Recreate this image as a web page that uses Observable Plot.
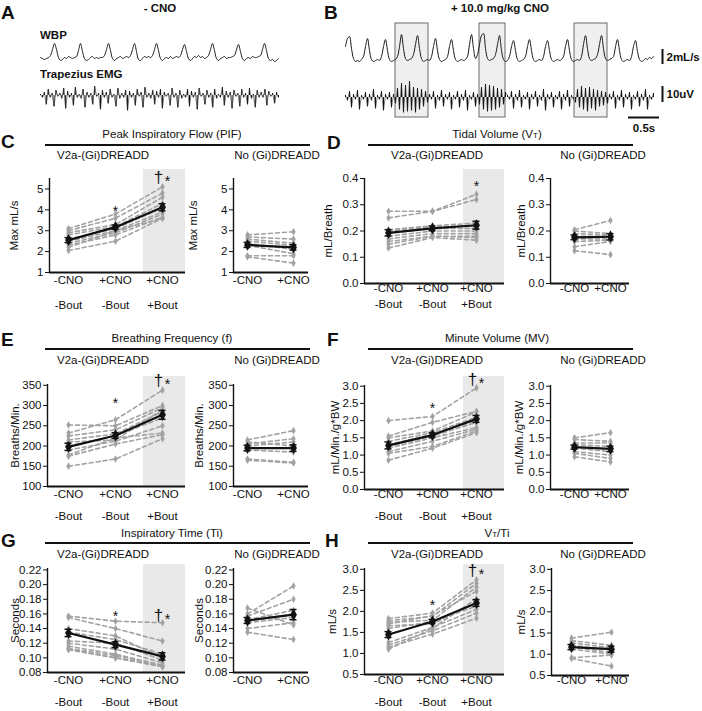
<!DOCTYPE html>
<html><head><meta charset="utf-8">
<script src="https://cdn.jsdelivr.net/npm/d3@7"></script>
<script src="https://cdn.jsdelivr.net/npm/@observablehq/plot@0.6"></script>
<style>
body{margin:0;background:#fff;}
#fig{position:relative;width:702px;height:711px;overflow:hidden;font-family:"Liberation Sans",Arial,sans-serif;color:#111;background:#fff;}
#fig svg{position:absolute;background:transparent !important;overflow:visible !important;max-width:none !important;}
.abs{position:absolute;white-space:nowrap;line-height:1;}
.letter{font-weight:bold;font-size:19px;}
.t{font-size:11.5px;}
.b{font-weight:bold;font-size:11.5px;}
.sc{font-size:8px;}
.hr{position:absolute;height:2px;background:#111;}
</style></head><body><div id="fig"></div>
<script>
// ---------- trace data ----------
const wbpA = [3,2.5,2,2.5,3,4,7,10,7,3,1.5,2,3,2.5,3.5,3,2.5,3,3.5,6.5,10,6,2.5,1.5,2,3,3.5,2.5,3,2.5,3,3,4,7,10,6.5,2.5,1.5,2.5,3,3.5,2.5,3,3.5,3,4,7,10,6,2,1.5,2.5,3.5,3,3.5,3,4,7,10,6.5,2.5,1.5,2.5,3,2.5,3.5,2.5,3,3.5,3,4,7,9.5,6,2.5,1.5,2.5,3.5,3,4,3,3.5,2.5,3,4,7,10,6.5,2.5,1.5,2.5,3,3.5,2.5,3,3,3.5,4,7,9.5,6,2.5,1.5,2.5,3,2.5,3.5,3,3,3.5,4,7,10,6.5,2.5,1.5,2,1,1.5,2.5];
const emgA = [1,-2,3,-9,6,-2,2,-11,5,-1,2,-3,7,-13,4,-2,2,-10,8,-2,1,-3,6,-12,3,-2,2,-9,9,-1,2,-14,5,-2,3,-8,6,-2,1,-11,7,-3,2,-2,5,-15,4,-2,2,-10,6,-1,3,-12,8,-2,2,-3,5,-9,4,-2,6,-13,3,-1,2,-10,7,-2,2,-12,5,-3,1,-2,6,-11,4,-2,3,-14,7,-1,2,-9,5,-2,2,-12,6,-3,1,-2,8,-10,4,-2,3,-13,5,-1,2,-11,6,-2,2,-9,7,-3,1,-12,5,-2,3,-2,6,-10,4,-1,2,-8,3,-2];
const wbpB = [9,13,14,8,3,1.5,2,1.5,2.5,4,9,13,7,2.5,1.5,2,2.5,2,4,9,12.5,7,2.5,1.5,2,2.5,4,9,15,8,3,2,2.5,3,5,10,14.5,8,3,1.5,2,2.5,2,4,9,13,7,2.5,1.5,2,2.5,4,9,12.5,7,2.5,1.5,2,2.5,2,2.5,4,10,15,8,3,5,10,14.5,15.5,8,3,2,2.5,3,5,10,14.5,7,2.5,1.5,2,4,9,12,7,2.5,1.5,2,2.5,4,9,12.5,7,2.5,1.5,2,2.5,2,4,9,12,7,2.5,1.5,2,2.5,2,2.5,4,9,12.5,7,2.5,1.5,2,2.5,2,4,10,14.5,8,3,2,2.5,3,5,10,14.5,8,3,2,2.5,3,4,9,12.5,7,2.5,1.5,2,2.5,2,4,9,12,6.5,2.5,1.5,2,3,2.5,3.5,3,4];
const emgB = [2,-3,6,-10,3,-2,7,-12,2,-2,5,-9,3,-3,8,-11,2,-2,6,-13,3,-2,5,-10,3,
  -6,9,-12,14,-15,12,-14,16,-13,10,-15,9,-12,8,-9,6,-5,
  3,-2,6,-11,2,-3,7,-9,3,-2,5,-12,2,-2,6,-10,3,-3,7,-13,2,-2,5,-9,3,
  -7,10,-12,13,-14,12,-13,11,-12,9,-10,8,-7,5,
  2,-2,6,-11,3,-3,7,-10,2,-2,5,-12,3,-2,6,-9,2,-3,8,-13,3,-2,5,-10,2,-2,6,-12,3,-3,7,-9,2,-2,
  -5,8,-10,11,-12,9,-14,10,-11,8,-13,7,-9,6,-8,5,-6,
  3,-2,6,-11,2,-3,7,-10,3,-2,5,-12,2,-2,6,-9,3,-3,8,-12,2,-2,4];
const boutStart = [25, 67, 114.5];   // sample index of highlighted bouts
const boutEnd = [41.5, 80, 131];
const flowBarUnits = 7.5;  // = 2 mL/s
const emgBarUnits = 16;    // = 10 uV
const samplesPerSec = 31;

// ---------- category / tick labels ----------
const catsV2a = ["-CNO", "+CNO", "+CNO"];
const boutV2a = ["-Bout", "-Bout", "+Bout"];
const catsNo = ["-CNO", "+CNO"];
const pifTicks = [1, 2, 3, 4, 5];
const vtTicks = [0, 0.1, 0.2, 0.3, 0.4];
const fTicks = [100, 150, 200, 250, 300, 350];
const mvTicks = [0, 0.5, 1, 1.5, 2, 2.5, 3];
const tiTicks = [0.08, 0.10, 0.12, 0.14, 0.16, 0.18, 0.20, 0.22];
const vttiTicks = [0.5, 1, 1.5, 2, 2.5, 3];

// ---------- C: Peak inspiratory flow ----------
const pifV2aPre  = [3.1, 3.0, 2.9, 2.8, 2.6, 2.5, 2.4, 2.3, 2.2, 2.05];
const pifV2aCno  = [3.8, 3.6, 3.3, 3.2, 3.1, 3.0, 2.9, 2.8, 3.0, 2.5];
const pifV2aBout = [5.1, 4.8, 4.6, 4.3, 4.1, 3.9, 3.8, 3.65, 3.6, 3.6];
const pifV2aMean = [2.55, 3.17, 4.12];
const pifV2aSe   = [0.12, 0.1, 0.17];
const pifNoPre   = [2.8, 2.7, 2.6, 2.5, 2.4, 2.3, 1.8, 1.75];
const pifNoCno   = [2.95, 2.6, 2.4, 2.3, 2.1, 1.9, 1.8, 1.45];
const pifNoMean  = [2.32, 2.2];
const pifNoSe    = [0.12, 0.13];
// ---------- D: Tidal volume ----------
const vtV2aPre  = [0.275, 0.25, 0.205, 0.2, 0.19, 0.18, 0.17, 0.16, 0.15, 0.135];
const vtV2aCno  = [0.275, 0.275, 0.22, 0.215, 0.21, 0.2, 0.19, 0.18, 0.18, 0.175];
const vtV2aBout = [0.34, 0.32, 0.23, 0.22, 0.21, 0.2, 0.19, 0.18, 0.175, 0.165];
const vtV2aMean = [0.193, 0.21, 0.222];
const vtV2aSe   = [0.012, 0.009, 0.015];
const vtNoPre   = [0.205, 0.2, 0.19, 0.18, 0.17, 0.16, 0.14, 0.125];
const vtNoCno   = [0.24, 0.19, 0.185, 0.18, 0.17, 0.165, 0.16, 0.11];
const vtNoMean  = [0.176, 0.178];
const vtNoSe    = [0.009, 0.012];
// ---------- E: Breathing frequency ----------
const fV2aPre  = [252, 232, 225, 215, 210, 200, 190, 178, 175, 150];
const fV2aCno  = [250, 265, 240, 230, 215, 225, 212, 220, 205, 168];
const fV2aBout = [300, 338, 295, 285, 290, 270, 250, 232, 228, 218];
const fV2aMean = [198, 226, 277];
const fV2aSe   = [9, 7, 11];
const fNoPre   = [215, 210, 205, 200, 195, 190, 168, 165];
const fNoCno   = [238, 200, 218, 210, 195, 185, 160, 158];
const fNoMean  = [195, 195];
const fNoSe    = [7, 8];
// ---------- F: Minute volume ----------
const mvV2aPre  = [2.0, 1.55, 1.5, 1.4, 1.3, 1.25, 1.2, 1.1, 1.05, 0.85];
const mvV2aCno  = [2.12, 1.95, 1.7, 1.65, 1.6, 1.55, 1.5, 1.4, 1.25, 1.2];
const mvV2aBout = [2.95, 2.27, 2.25, 2.1, 2.0, 1.95, 1.8, 1.75, 1.7, 1.65];
const mvV2aMean = [1.28, 1.58, 2.05];
const mvV2aSe   = [0.1, 0.07, 0.1];
const mvNoPre   = [1.5, 1.45, 1.35, 1.3, 1.2, 1.1, 1.05, 0.95];
const mvNoCno   = [1.65, 1.4, 1.35, 1.25, 1.1, 1.0, 0.9, 0.8];
const mvNoMean  = [1.23, 1.18];
const mvNoSe    = [0.06, 0.08];
// ---------- G: Inspiratory time ----------
const tiV2aPre  = [0.157, 0.155, 0.14, 0.123, 0.12, 0.116, 0.113, 0.112, 0.111, 0.135];
const tiV2aCno  = [0.15, 0.14, 0.13, 0.12, 0.112, 0.105, 0.103, 0.1, 0.1, 0.125];
const tiV2aBout = [0.148, 0.123, 0.1, 0.097, 0.093, 0.09, 0.089, 0.088, 0.088, 0.105];
const tiV2aMean = [0.134, 0.118, 0.102];
const tiV2aSe   = [0.005, 0.004, 0.005];
const tiNoPre   = [0.168, 0.16, 0.157, 0.152, 0.15, 0.148, 0.14, 0.135];
const tiNoCno   = [0.145, 0.198, 0.18, 0.165, 0.16, 0.155, 0.148, 0.125];
const tiNoMean  = [0.151, 0.159];
const tiNoSe    = [0.004, 0.007];
// ---------- H: VT/Ti ----------
const vttiV2aPre  = [1.83, 1.78, 1.74, 1.7, 1.66, 1.6, 1.26, 1.2, 1.15, 1.1];
const vttiV2aCno  = [1.96, 1.88, 1.79, 1.9, 1.7, 1.75, 1.62, 1.54, 1.46, 1.6];
const vttiV2aBout = [2.75, 2.67, 2.58, 2.48, 2.2, 2.13, 2.05, 1.96, 1.84, 2.3];
const vttiV2aMean = [1.45, 1.76, 2.2];
const vttiV2aSe   = [0.07, 0.05, 0.08];
const vttiNoPre   = [1.38, 1.32, 1.27, 1.21, 1.17, 1.12, 0.92, 0.9];
const vttiNoCno   = [1.52, 1.21, 1.15, 1.1, 1.04, 1.0, 0.98, 0.72];
const vttiNoMean  = [1.17, 1.12];
const vttiNoSe    = [0.06, 0.07];
// ---------- significance marks: [condition index, value] ----------
const pifStar = [[1, 4.06]], pifDagger = [[2, 5.55]];
const vtStar = [[2, 0.38]], vtDagger = [];
const fStar = [[1, 313]], fDagger = [[2, 362]];
const mvStar = [[1, 2.45]], mvDagger = [[2, 3.2]];
const tiStar = [[1, 0.1606]], tiDagger = [[2, 0.1575]];
const vttiStar = [[1, 2.21]], vttiDagger = [[2, 2.98]];

// ================= drawing =================
const fig = document.getElementById("fig");
const SVGSTYLE = "font-family:'Liberation Sans',Arial,sans-serif;font-size:11.5px;background:transparent;overflow:visible;max-width:none;color:#111;";
function put(node, left, top) { node.style.left = left + "px"; node.style.top = top + "px"; fig.appendChild(node); }
function txt(html, x, y, cls, anchor = "center") {
  const d = document.createElement("div");
  d.className = "abs " + cls;
  d.innerHTML = html;
  d.style.transform = anchor === "center" ? "translate(-50%,-50%)" : anchor === "left" ? "translate(0,-50%)" : "none";
  put(d, x, y);
}
function hr(x1, x2, y) { const d = document.createElement("div"); d.className = "hr"; d.style.width = (x2 - x1) + "px"; put(d, x1, y - 1); }

// ---- traces ----
function tracePlot(left, top, w, h, n, xr, yd, yr, marks) {
  const p = Plot.plot({
    width: w, height: h, margin: 0, style: SVGSTYLE,
    x: {domain: [0, n - 1], range: xr, axis: null},
    y: {domain: yd, range: yr, axis: null},
    marks
  });
  put(p, left, top);
}
const flowLine = data => Plot.line(data, {x: (d, i) => i, y: d => d, stroke: "#1a1a1a", strokeWidth: 1, curve: "catmull-rom"});
const emgMarks = data => [
  Plot.ruleX(data, {x: (d, i) => i, y1: 0, y2: d => d, stroke: "#111", strokeWidth: 1}),
  Plot.line(data, {x: (d, i) => i, y: d => d, stroke: "#222", strokeWidth: 0.6})
];
const nB = emgB.length, barX = nB + 3.5;
// bouts boxes (behind B traces)
tracePlot(0, 20, 702, 100, nB, [345, 653], [0, 1], [97, 3], [
  Plot.rect(boutStart.map((s, i) => ({s, e: boutEnd[i]})), {x1: "s", x2: "e", y1: 0, y2: 1, fill: "#efefef", stroke: "#6a6a6a", strokeWidth: 1})
]);
tracePlot(0, 30, 702, 50, wbpA.length, [40, 278], [0, 10], [33, 13], [flowLine(wbpA)]);
tracePlot(0, 73, 702, 60, emgA.length, [40, 278], [-20, 20], [42, 2], emgMarks(emgA));
tracePlot(0, 20, 702, 60, wbpB.length, [345, 653], [0, 16], [44, 12], [flowLine(wbpB)]);
tracePlot(0, 20, 702, 60, nB, [345, 653], [0, 16], [44, 12], [
  Plot.ruleX([barX], {y1: 0, y2: flowBarUnits, stroke: "#111", strokeWidth: 2}),
  Plot.text(["2mL/s"], {x: barX + 2, y: flowBarUnits / 2, text: d => d, textAnchor: "start", fontWeight: "bold", fontSize: 11.5})
]);
tracePlot(0, 75, 702, 60, nB, [345, 653], [-20, 20], [42, 2], [
  ...emgMarks(emgB),
  Plot.ruleX([barX], {y1: -5, y2: -5 + emgBarUnits, stroke: "#111", strokeWidth: 2}),
  Plot.text(["10uV"], {x: barX + 2, y: 3, text: d => d, textAnchor: "start", fontWeight: "bold", fontSize: 11.5}),
  Plot.ruleY([-20], {x1: barX - 1.5 - 0.5 * samplesPerSec, x2: barX - 1.5, stroke: "#111", strokeWidth: 2}),
  Plot.text(["0.5s"], {x: barX - 1.5 - 0.25 * samplesPerSec, y: -31, text: d => d, fontWeight: "bold", fontSize: 11.5})
]);

txt("- CNO", 160, 9, "b");
txt("+ 10.0 mg/kg CNO", 500, 9, "b");
txt("WBP", 40, 36, "b", "left");
txt("Trapezius EMG", 40, 75, "b", "left");

// ---- letters ----
[["A", 1, 3], ["B", 324, 3], ["C", 1, 132], ["D", 327, 133], ["E", 1, 330], ["F", 327, 330], ["G", 1, 531], ["H", 325, 531]]
  .forEach(([l, x, y]) => txt(l, x, y, "letter", "none"));

// ---- titles ----
const titles = ["Peak Inspiratory Flow (PIF)", "Tidal Volume (V<span class='sc'>T</span>)", "Breathing Frequency (f)",
  "Minute Volume (MV)", "Inspiratory Time (Ti)", "V<span class='sc'>T</span>/Ti"];
const rowY = [{t: 135, l: 145, s: 156}, {t: 339, l: 349, s: 361}, {t: 534, l: 543, s: 555}];
const colX = [{t: 172, l1: 45, l2: 310, sl: 103, sr: 277}, {t: 497, l1: 368, l2: 633, sl: 437, sr: 603}];
titles.forEach((t, k) => {
  const r = rowY[Math.floor(k / 2)], c = colX[k % 2];
  txt(t, c.t, r.t, "t");
  hr(c.l1, c.l2, r.l);
  txt("V2a-(Gi)DREADD", c.sl, r.s, "t");
  txt("No (Gi)DREADD", c.sr, r.s, "t");
});

// ---- subplots ----
function subplot(c) {
  const n = c.series.length;
  const step = (c.catPx[n - 1] - c.catPx[0]) / (n - 1);
  const xd = [-(c.catPx[0] - c.L) / step, (c.R - c.catPx[0]) / step];
  const ML = 64, MR = 14, MT = 26, MB = 48;
  const rows = [];
  c.series[0].forEach((_, a) => c.series.forEach((s, i) => rows.push({a, i, v: s[a]})));
  const mrows = c.mean.map((m, i) => ({i, m, lo: m - c.se[i], hi: m + c.se[i]}));
  const cap = 3.5 / step;
  const cats = c.cats.map((l, i) => ({i, l1: l, l2: c.cats2 ? c.cats2[i] : ""}));
  const stars = c.star.map(([i, v]) => ({i, v}));
  const dags = c.dag.map(([i, v]) => ({i, v}));
  const marks = [];
  if (c.shade) marks.push(Plot.rect([0], {x1: (c.shade - c.catPx[0]) / step, x2: xd[1], fill: "#e9e9e9", insetTop: -(c.T - c.shadeTop)}));
  marks.push(
    Plot.axisY({ticks: c.ticks, tickFormat: c.fmt, tickSize: 4, tickPadding: 2, label: c.label, labelAnchor: "center", labelOffset: c.labOff, labelArrow: "none"}),
    Plot.ruleX([xd[0]], {stroke: "#111", strokeWidth: 1.4}),
    Plot.ruleY([c.yd[0]], {stroke: "#111", strokeWidth: 2.2}),
    Plot.line(rows, {x: "i", y: "v", z: "a", stroke: "#a2a2a2", strokeWidth: 1.6, strokeDasharray: "4,3"}),
    Plot.dot(rows, {x: "i", y: "v", symbol: "diamond", r: 2.3, fill: "#a2a2a2"}),
    Plot.line(mrows, {x: "i", y: "m", stroke: "#111", strokeWidth: 2.2}),
    Plot.ruleX(mrows, {x: "i", y1: "lo", y2: "hi", stroke: "#111", strokeWidth: 1.5}),
    Plot.ruleY(mrows, {y: "hi", x1: d => d.i - cap, x2: d => d.i + cap, stroke: "#111", strokeWidth: 1.5}),
    Plot.ruleY(mrows, {y: "lo", x1: d => d.i - cap, x2: d => d.i + cap, stroke: "#111", strokeWidth: 1.5}),
    Plot.dot(mrows, {x: "i", y: "m", symbol: "diamond", r: 3.6, fill: "#111"}),
    Plot.text(cats, {x: "i", text: "l1", frameAnchor: "bottom", dy: c.d1, fontSize: 11.5}),
    Plot.text(cats, {x: "i", text: "l2", frameAnchor: "bottom", dy: c.d2, fontSize: 11.5}),
    Plot.text(stars, {x: "i", y: "v", text: () => "*", fontSize: 14, dy: 3}),
    Plot.text(dags, {x: "i", y: "v", text: () => "\u2020", fontSize: 17, dx: -4}),
    Plot.text(dags, {x: "i", y: "v", text: () => "*", fontSize: 14, dx: 5, dy: 4})
  );
  const p = Plot.plot({
    width: c.R - c.L + ML + MR, height: c.B - c.T + MT + MB,
    marginLeft: ML, marginRight: MR, marginTop: MT, marginBottom: MB,
    style: SVGSTYLE,
    x: {domain: xd, axis: null},
    y: {domain: c.yd},
    marks
  });
  put(p, c.L - ML, c.T - MT);
}
const f1 = d3.format(".1f"), f2 = d3.format(".2f"), f0 = d3.format("d");
const L1 = {L: 49, R: 185, catPx: [68, 115, 162], shade: 143, cats: catsV2a, cats2: boutV2a};
const R1 = {L: 233, R: 308, catPx: [247, 293], cats: catsNo};
const L2 = {L: 364, R: 504, catPx: [388, 434, 476], shade: 463, cats: catsV2a, cats2: boutV2a};
const R2 = {L: 550, R: 629, catPx: [574, 610], cats: catsNo};
const common = [
  // C
  [{...L1, T: 178, B: 272, shadeTop: 169, d1: 11, d2: 36, labOff: 39.5}, {...R1, T: 178, B: 272, d1: 11, labOff: 44.5},
   {yd: [1, 5.5], ticks: pifTicks, fmt: f0, label: "Max mL/s"},
   [pifV2aPre, pifV2aCno, pifV2aBout], pifV2aMean, pifV2aSe, [pifNoPre, pifNoCno], pifNoMean, pifNoSe, pifStar, pifDagger],
  // D
  [{...L2, T: 178, B: 283, shadeTop: 169, d1: 8, d2: 24, labOff: 40.5}, {...R2, T: 178, B: 283, d1: 8, labOff: 33.5},
   {yd: [0, 0.4], ticks: vtTicks, fmt: f1, label: "mL/Breath"},
   [vtV2aPre, vtV2aCno, vtV2aBout], vtV2aMean, vtV2aSe, [vtNoPre, vtNoCno], vtNoMean, vtNoSe, vtStar, vtDagger],
  // E
  [{...L1, L: 47, T: 384, B: 486, shadeTop: 376, d1: 11, d2: 33, labOff: 36.5}, {...R1, T: 384, B: 486, d1: 11, labOff: 39}],
  // F
  [{...L2, T: 385, B: 489, shadeTop: 376, d1: 8, d2: 30, labOff: 34}, {...R2, T: 385, B: 489, d1: 8, labOff: 36}],
  // G
  [{...L1, L: 47, T: 568, B: 672, shadeTop: 564, d1: 11, d2: 33, labOff: 36.5}, {...R1, T: 568, B: 672, d1: 11, labOff: 39}],
  // H
  [{...L2, T: 568, B: 674, shadeTop: 564, d1: 9, d2: 31, labOff: 36.5}, {...R2, L: 551, catPx: [571, 611], T: 568, B: 675, d1: 8, labOff: 34.5}]
];
common[2].push({yd: [100, 352], ticks: fTicks, fmt: f0, label: "Breaths/Min."},
   [fV2aPre, fV2aCno, fV2aBout], fV2aMean, fV2aSe, [fNoPre, fNoCno], fNoMean, fNoSe, fStar, fDagger);
common[3].push({yd: [0, 3.02], ticks: mvTicks, fmt: f1, label: "mL/Min./g*BW"},
   [mvV2aPre, mvV2aCno, mvV2aBout], mvV2aMean, mvV2aSe, [mvNoPre, mvNoCno], mvNoMean, mvNoSe, mvStar, mvDagger);
common[4].push({yd: [0.08, 0.222], ticks: tiTicks, fmt: f2, label: "Seconds"},
   [tiV2aPre, tiV2aCno, tiV2aBout], tiV2aMean, tiV2aSe, [tiNoPre, tiNoCno], tiNoMean, tiNoSe, tiStar, tiDagger);
common[5].push({yd: [0.5, 3.02], ticks: vttiTicks, fmt: f1, label: "mL/s"},
   [vttiV2aPre, vttiV2aCno, vttiV2aBout], vttiV2aMean, vttiV2aSe, [vttiNoPre, vttiNoCno], vttiNoMean, vttiNoSe, vttiStar, vttiDagger);
common.forEach(([lay, layR, ax, s1, m1, e1, s2, m2, e2, st, dg]) => {
  subplot({...lay, ...ax, series: s1, mean: m1, se: e1, star: st, dag: dg});
  subplot({...layR, ...ax, series: s2, mean: m2, se: e2, star: [], dag: []});
});
</script></body></html>
